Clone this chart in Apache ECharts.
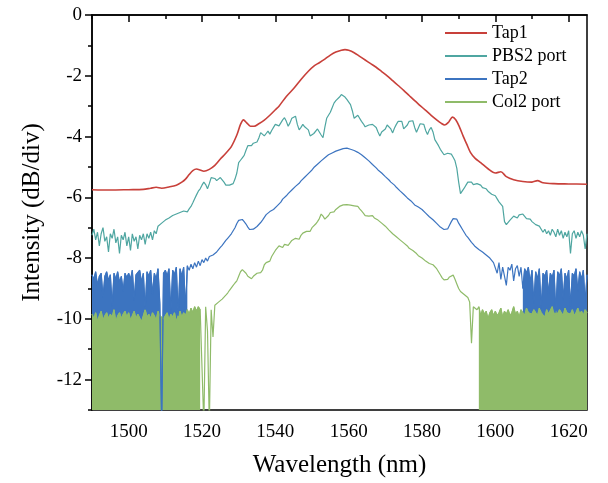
<!DOCTYPE html>
<html lang="en">
<head>
<meta charset="UTF-8">
<title>Spectra</title>
<style>
  * { padding: 0; margin: 0; }
  body { background: #fff; }
</style>
</head>
<body>
<div id="main" style="width:608px;height:483px;"></div>
<script src="https://cdn.jsdelivr.net/npm/echarts@6/dist/echarts.min.js"></script>
<script>
// wavelength grid for the three noisy traces: 1490 .. 1625 nm, 0.5 nm step
const wlStart = 1490, wlStep = 0.5;

const xLabels = [1500, 1520, 1540, 1560, 1580, 1600, 1620];
const xMinor = [1490, 1510, 1530, 1550, 1570, 1590, 1610];
const yLabels = [0, -2, -4, -6, -8, -10, -12];
const yMinor = [-1, -3, -5, -7, -9, -11, -13];

const names = ['Tap1', 'PBS2 port', 'Tap2', 'Col2 port'];

// Tap1 is smooth, so it is read at its own points [nm, dB]
const tap1 = [
  [1490,-5.75],[1495,-5.76],[1500,-5.75],[1504,-5.74],[1506,-5.7],[1507.5,-5.67],[1509,-5.7],
  [1511,-5.66],[1513,-5.6],[1514.5,-5.5],[1515.5,-5.4],[1516.5,-5.25],[1517.5,-5.12],[1518.5,-5.07],
  [1519.5,-5.1],[1520.5,-5.14],[1522,-5.08],[1523.5,-4.95],[1525,-4.74],[1526.5,-4.55],[1528,-4.33],
  [1529.5,-3.95],[1530.5,-3.6],[1531.3,-3.45],[1532.2,-3.55],[1533.2,-3.66],[1534.2,-3.66],
  [1535.5,-3.58],[1537,-3.46],[1538.5,-3.3],[1540,-3.12],[1541,-3.0],[1543,-2.68],[1545,-2.42],
  [1547,-2.12],[1549,-1.85],[1550.5,-1.68],[1552,-1.57],[1553.5,-1.45],[1555,-1.32],[1556.5,-1.22],
  [1558,-1.16],[1559,-1.14],[1560,-1.16],[1561.5,-1.24],[1563,-1.36],[1564.5,-1.48],[1566,-1.6],
  [1567.5,-1.72],[1569,-1.86],[1570.5,-2.0],[1572,-2.16],[1573.5,-2.32],[1575,-2.48],[1576.5,-2.65],
  [1578,-2.82],[1579.5,-2.98],[1581,-3.14],[1582.5,-3.3],[1584,-3.45],[1585.2,-3.56],[1586.2,-3.62],
  [1587.3,-3.52],[1588.3,-3.36],[1589.2,-3.45],[1590.2,-3.68],[1591.2,-3.98],[1592.2,-4.25],
  [1593.2,-4.52],[1594.5,-4.72],[1596,-4.86],[1598,-5.06],[1600,-5.2],[1601.5,-5.16],[1603,-5.32],
  [1605,-5.42],[1607.5,-5.48],[1610,-5.5],[1611.5,-5.45],[1613,-5.52],[1616,-5.55],[1620,-5.56],
  [1625,-5.57]
];

// PBS2 port, one row per 10 nm
const pbs2 = [
  -7.25,-7.05,-7.4,-7.15,-7.6,-7.2,-7.0,-7.45,-7.3,-7.8,-7.2,-7.35,-7.05,-7.5,-7.3,-7.85,-7.25,-7.4,-7.15,-7.6,
  -7.3,-7.75,-7.2,-7.45,-7.3,-7.7,-7.25,-7.4,-7.2,-7.55,-7.2,-7.35,-7.15,-7.4,-7.1,-7.2,-6.95,-7.0,-6.85,-6.9,
  -6.75,-6.8,-6.68,-6.7,-6.6,-6.65,-6.55,-6.58,-6.5,-6.45,-6.45,-6.5,-6.48,-6.38,-6.3,-6.18,-6.05,-5.92,-5.8,-5.72,
  -5.6,-5.5,-5.58,-5.72,-5.55,-5.35,-5.3,-5.38,-5.45,-5.42,-5.35,-5.4,-5.5,-5.6,-5.62,-5.6,-5.63,-5.55,-5.4,-5.2,
  -4.86,-4.78,-4.7,-4.62,-4.45,-4.3,-4.32,-4.3,-4.22,-4.25,-4.18,-4.05,-3.87,-3.85,-3.98,-3.9,-3.82,-3.92,-3.8,-3.7,
  -3.6,-3.55,-3.65,-3.6,-3.45,-3.38,-3.5,-3.66,-3.55,-3.4,-3.35,-3.33,-3.6,-3.78,-3.7,-3.6,-3.68,-3.62,-3.78,-3.98,
  -4.02,-3.9,-3.85,-3.75,-3.72,-3.95,-4.04,-3.7,-3.4,-3.3,-3.2,-3.05,-2.9,-2.82,-2.78,-2.7,-2.62,-2.58,-2.7,-2.78,
  -2.72,-2.95,-3.15,-3.4,-3.38,-3.3,-3.35,-3.5,-3.58,-3.68,-3.7,-3.62,-3.66,-3.6,-3.65,-3.7,-3.85,-3.98,-3.85,-3.88,
  -3.75,-3.62,-3.65,-3.75,-3.88,-3.72,-3.6,-3.5,-3.45,-3.5,-3.75,-3.78,-3.62,-3.5,-3.45,-3.48,-3.7,-3.86,-3.72,-3.58,
  -3.55,-3.6,-3.8,-3.93,-3.78,-3.7,-3.85,-4.1,-4.15,-4.3,-4.42,-4.45,-4.6,-4.62,-4.55,-4.52,-4.58,-4.68,-4.8,-5.05,
  -5.5,-5.88,-5.82,-5.7,-5.6,-5.5,-5.46,-5.5,-5.58,-5.62,-5.55,-5.5,-5.6,-5.68,-5.62,-5.72,-5.8,-5.85,-5.9,-5.85,
  -5.95,-6.05,-6.15,-6.2,-6.3,-6.8,-6.9,-6.95,-6.75,-6.7,-6.62,-6.6,-6.68,-6.58,-6.62,-6.55,-6.6,-6.7,-6.65,-6.72,
  -6.8,-6.75,-6.9,-6.85,-6.95,-7.0,-7.15,-7.05,-7.2,-7.1,-7.25,-7.05,-7.15,-7.3,-7.05,-7.25,-7.1,-7.35,-7.15,-7.3,
  -7.1,-7.85,-7.2,-7.1,-7.35,-7.15,-7.3,-7.1,-7.25,-7.7,-7.2
];

// Tap2
const tap2 = [
  -8.55,-8.7,-8.45,-8.9,-8.6,-8.5,-9.3,-8.6,-8.45,-8.75,-8.55,-9.6,-8.5,-8.7,-8.45,-8.8,-8.6,-9.1,-8.5,-8.65,
  -8.5,-8.7,-8.4,-9.4,-8.55,-8.6,-8.4,-8.8,-8.5,-9.7,-8.45,-8.6,-8.4,-9.2,-8.5,-8.7,-8.35,-9.5,-13.5,-8.5,
  -8.4,-8.6,-8.35,-9.8,-8.4,-8.55,-8.3,-9.9,-8.35,-8.6,-8.3,-9.7,-8.25,-8.4,-8.2,-8.35,-8.15,-8.3,-8.1,-8.25,
  -8.05,-8.15,-8.0,-8.1,-7.95,-7.98,-7.9,-7.85,-7.8,-7.72,-7.65,-7.58,-7.5,-7.42,-7.35,-7.28,-7.2,-7.1,-7.0,-6.86,
  -6.76,-6.71,-6.73,-6.8,-6.88,-6.98,-7.06,-7.09,-7.05,-7.0,-6.96,-6.9,-6.83,-6.75,-6.66,-6.57,-6.52,-6.47,-6.45,-6.4,
  -6.36,-6.28,-6.24,-6.16,-6.06,-6.0,-5.95,-5.88,-5.84,-5.76,-5.71,-5.64,-5.58,-5.54,-5.46,-5.42,-5.34,-5.29,-5.22,-5.16,
  -5.1,-5.02,-4.98,-4.91,-4.86,-4.8,-4.76,-4.7,-4.66,-4.6,-4.57,-4.54,-4.5,-4.48,-4.45,-4.44,-4.42,-4.4,-4.39,-4.38,
  -4.4,-4.42,-4.43,-4.46,-4.48,-4.52,-4.55,-4.6,-4.66,-4.7,-4.76,-4.8,-4.86,-4.92,-4.98,-5.03,-5.1,-5.14,-5.2,-5.26,
  -5.32,-5.37,-5.43,-5.5,-5.55,-5.6,-5.67,-5.72,-5.79,-5.85,-5.9,-5.96,-6.02,-6.08,-6.12,-6.18,-6.25,-6.3,-6.32,-6.36,
  -6.4,-6.46,-6.52,-6.58,-6.64,-6.7,-6.74,-6.8,-6.86,-6.92,-6.98,-7.02,-7.06,-7.09,-7.04,-6.92,-6.8,-6.7,-6.66,-6.72,
  -6.85,-6.95,-7.05,-7.15,-7.25,-7.32,-7.4,-7.48,-7.55,-7.62,-7.68,-7.72,-7.78,-7.8,-7.86,-7.9,-7.85,-8.0,-7.95,-8.15,
  -8.2,-8.5,-8.15,-8.7,-8.3,-8.25,-8.9,-8.3,-8.4,-8.2,-8.75,-8.35,-8.25,-8.6,-8.3,-9.0,-8.35,-8.5,-8.3,-8.8,
  -8.4,-9.5,-8.45,-8.7,-8.35,-9.7,-8.5,-8.6,-8.4,-9.2,-8.5,-8.65,-8.4,-9.8,-8.45,-8.6,-8.35,-9.4,-8.5,-8.7,
  -8.4,-9.6,-8.5,-8.6,-8.35,-9.1,-8.45,-8.7,-8.4,-9.5,-8.55
];

// Col2 port
const col2 = [
  -9.85,-10.0,-9.8,-10.1,-9.9,-9.75,-10.05,-9.9,-9.8,-10.0,-9.85,-9.95,-9.7,-10.1,-9.9,-9.8,-10.0,-9.85,-9.75,-9.95,
  -9.8,-10.05,-9.9,-9.75,-10.0,-9.85,-9.8,-10.1,-9.9,-9.7,-9.95,-9.85,-10.0,-9.8,-9.9,-10.05,-9.75,-9.9,-9.85,-10.0,
  -9.9,-9.8,-10.05,-9.85,-9.95,-9.8,-10.1,-9.9,-9.75,-9.95,-9.8,-9.9,-9.7,-9.85,-9.65,-9.8,-9.6,-9.75,-9.6,-9.7,
  -9.65,-13.5,-9.6,-10.4,-13.5,-9.7,-10.6,-9.55,-9.5,-9.45,-9.42,-9.35,-9.3,-9.22,-9.15,-9.06,-8.98,-8.9,-8.82,-8.75,
  -8.6,-8.45,-8.38,-8.35,-8.5,-8.6,-8.65,-8.68,-8.6,-8.55,-8.5,-8.45,-8.48,-8.4,-8.22,-8.15,-8.18,-8.1,-7.95,-7.85,
  -7.75,-7.7,-7.6,-7.55,-7.65,-7.55,-7.5,-7.58,-7.5,-7.42,-7.45,-7.35,-7.3,-7.38,-7.25,-7.18,-7.22,-7.12,-7.08,-7.12,
  -7.0,-6.95,-6.88,-6.8,-6.7,-6.55,-6.62,-6.72,-6.77,-6.6,-6.5,-6.45,-6.48,-6.4,-6.35,-6.3,-6.28,-6.25,-6.22,-6.24,
  -6.22,-6.26,-6.3,-6.28,-6.32,-6.3,-6.38,-6.45,-6.52,-6.6,-6.58,-6.62,-6.65,-6.6,-6.68,-6.72,-6.75,-6.8,-6.85,-6.9,
  -6.95,-7.0,-7.08,-7.12,-7.2,-7.22,-7.3,-7.35,-7.4,-7.46,-7.5,-7.55,-7.6,-7.68,-7.7,-7.75,-7.8,-7.85,-7.92,-7.98,
  -8.0,-8.05,-8.1,-8.12,-8.18,-8.2,-8.22,-8.28,-8.35,-8.45,-8.55,-8.65,-8.72,-8.75,-8.7,-8.62,-8.58,-8.56,-8.7,-8.85,
  -9.0,-9.1,-9.15,-9.2,-9.25,-9.3,-9.45,-10.8,-9.6,-9.65,-9.7,-9.6,-9.9,-9.7,-9.85,-9.75,-10.0,-9.8,-9.7,-9.9,
  -9.75,-9.9,-9.8,-9.65,-9.95,-9.75,-9.85,-9.7,-9.9,-9.8,-9.6,-9.85,-9.75,-9.95,-9.7,-9.8,-9.9,-9.65,-9.8,-9.75,
  -9.85,-9.7,-9.8,-9.9,-9.65,-9.8,-9.75,-9.95,-9.7,-9.85,-9.8,-9.6,-9.9,-9.75,-9.85,-9.7,-9.8,-9.9,-9.65,-9.8,
  -9.75,-9.85,-9.7,-9.9,-9.8,-9.65,-9.85,-9.75,-9.9,-9.7,-9.8
];

const colors = { tap1: '#c8403a', pbs2: '#4fa6a1', tap2: '#3c74c0', col2: '#8fbb69' };
const serif = 'Liberation Serif';

const withWl = vals => vals.map((v, i) => [wlStart + i * wlStep, v]);
const pbs2Pts = withWl(pbs2), tap2Pts = withWl(tap2), col2Pts = withWl(col2);

// the dense noise floors show as solid bands: fill them down to the axis
const band = (name, pts, color) => ({
  name: name, type: 'line', data: pts, symbol: 'none', silent: true,
  lineStyle: { width: 1, color: color },
  areaStyle: { color: color, opacity: 1, origin: 'start' }
});
const trace = (name, pts, color, w) => ({
  name: name, type: 'line', data: pts, symbol: 'none',
  lineStyle: { width: w, color: color }, itemStyle: { color: color }
});

const myChart = echarts.init(document.getElementById('main'));
const axisText = { fontFamily: serif, fontSize: 19, color: '#000', formatter: v => String(v) };

myChart.setOption({
  animation: false,
  grid: { left: 92, right: 21, top: 15, bottom: 71, show: true, borderColor: '#000', borderWidth: 1.5 },
  legend: {
    data: names, orient: 'vertical', left: 440, top: 19,
    icon: 'rect', itemWidth: 42, itemHeight: 2, itemGap: 5, selectedMode: false,
    textStyle: { fontFamily: serif, fontSize: 18, color: '#000' }
  },
  xAxis: [{
    type: 'value', min: 1490, max: 1625,
    name: 'Wavelength (nm)', nameLocation: 'middle', nameGap: 43,
    nameTextStyle: { fontFamily: serif, fontSize: 25, color: '#000' },
    axisLine: { lineStyle: { color: '#000', width: 1.5 } },
    axisTick: { customValues: xLabels, length: 7, lineStyle: { color: '#000', width: 1.5 } },
    axisLabel: Object.assign({ customValues: xLabels, margin: 13 }, axisText),
    splitLine: { show: false }
  }, {
    type: 'value', min: 1490, max: 1625, position: 'bottom',
    axisLine: { show: false }, axisLabel: { show: false }, splitLine: { show: false },
    axisTick: { customValues: xMinor, length: 4, lineStyle: { color: '#000', width: 1.5 } }
  }],
  yAxis: [{
    type: 'value', min: -13, max: 0,
    name: 'Intensity (dB/div)', nameLocation: 'middle', nameGap: 47,
    nameTextStyle: { fontFamily: serif, fontSize: 25, color: '#000' },
    axisLine: { lineStyle: { color: '#000', width: 1.5 } },
    axisTick: { customValues: yLabels, length: 7, lineStyle: { color: '#000', width: 1.5 } },
    axisLabel: Object.assign({ customValues: yLabels, margin: 10 }, axisText),
    splitLine: { show: false }
  }, {
    type: 'value', min: -13, max: 0, position: 'left',
    axisLine: { show: false }, axisLabel: { show: false }, splitLine: { show: false },
    axisTick: { customValues: yMinor, length: 4, lineStyle: { color: '#000', width: 1.5 } }
  }],
  series: [
    band('tap2-floor-a', tap2Pts.slice(0, 53), colors.tap2),
    band('tap2-floor-b', tap2Pts.slice(235), colors.tap2),
    band('col2-floor-a', col2Pts.slice(0, 60), colors.col2),
    band('col2-floor-b', col2Pts.slice(211), colors.col2),
    trace('Col2 port', col2Pts, colors.col2, 1.2),
    trace('Tap2', tap2Pts, colors.tap2, 1.2),
    trace('PBS2 port', pbs2Pts, colors.pbs2, 1.2),
    Object.assign(trace('Tap1', tap1, colors.tap1, 1.6), { smooth: 0.3 })
  ]
});
</script>
</body>
</html>
